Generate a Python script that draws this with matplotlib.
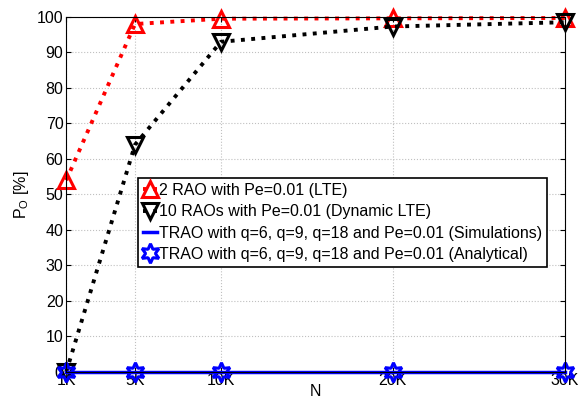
import matplotlib
matplotlib.use("Agg")
import matplotlib.pyplot as plt

plt.rcParams['font.family'] = ['Liberation Sans', 'DejaVu Sans']
plt.rcParams['mathtext.fontset'] = 'custom'
plt.rcParams['mathtext.rm'] = 'Liberation Sans'

n_vals = [1, 5, 10, 20, 30]
n_labels = ["1K", "5K", "10K", "20K", "30K"]
lte_2rao = [54, 98, 99.5, 99.6, 99.7]
lte_10rao = [0, 64, 93, 97.3, 98.5]
trao_sim = [0, 0, 0, 0, 0]
trao_ana = [0, 0, 0, 0, 0]

fig = plt.figure(figsize=(5.81, 4.03), dpi=100)
ax = fig.add_axes([0.114, 0.077, 0.858, 0.881])

ax.plot(n_vals, lte_2rao, color="red", linestyle=":", linewidth=2.8,
        marker="^", markersize=12, markerfacecolor="none", markeredgewidth=2.2,
        clip_on=False, label="2 RAO with Pe=0.01 (LTE)")
ax.plot(n_vals, lte_10rao, color="black", linestyle=":", linewidth=2.8,
        marker="v", markersize=12, markerfacecolor="none", markeredgewidth=2.2,
        clip_on=False, label="10 RAOs with Pe=0.01 (Dynamic LTE)")
ax.plot(n_vals, trao_sim, color="blue", linestyle="-", linewidth=2.5,
        clip_on=False, label="TRAO with q=6, q=9, q=18 and Pe=0.01 (Simulations)")
ax.plot(n_vals, trao_ana, color="blue", linestyle="none",
        marker=(6, 1, 0), markersize=14, markerfacecolor="none", markeredgewidth=2.2,
        clip_on=False, label="TRAO with q=6, q=9, q=18 and Pe=0.01 (Analytical)")

ax.set_xlim(1, 30)
ax.set_ylim(0, 100)
ax.set_xticks(n_vals)
ax.set_xticklabels(n_labels)
ax.set_yticks(range(0, 101, 10))
ax.tick_params(direction="in", top=True, right=True, labelsize=11.5, pad=2)
ax.tick_params(axis="x", pad=1)
ax.grid(True, linestyle=":", color="#c0c0c0", linewidth=0.8)
ax.set_xlabel("N", fontsize=11.5, labelpad=-3)
ax.set_ylabel(r"P$_\mathrm{O}$ [%]", fontsize=11.5)

leg = ax.legend(loc="upper left", bbox_to_anchor=(0.144, 0.546), fontsize=11.5,
                handlelength=0.9, handletextpad=0.1, borderpad=0.3,
                labelspacing=0.4, fancybox=False, framealpha=1, borderaxespad=0)
leg.get_frame().set_edgecolor("black")
leg.get_frame().set_linewidth(1.2)

fig.savefig("out.png", dpi=100)
